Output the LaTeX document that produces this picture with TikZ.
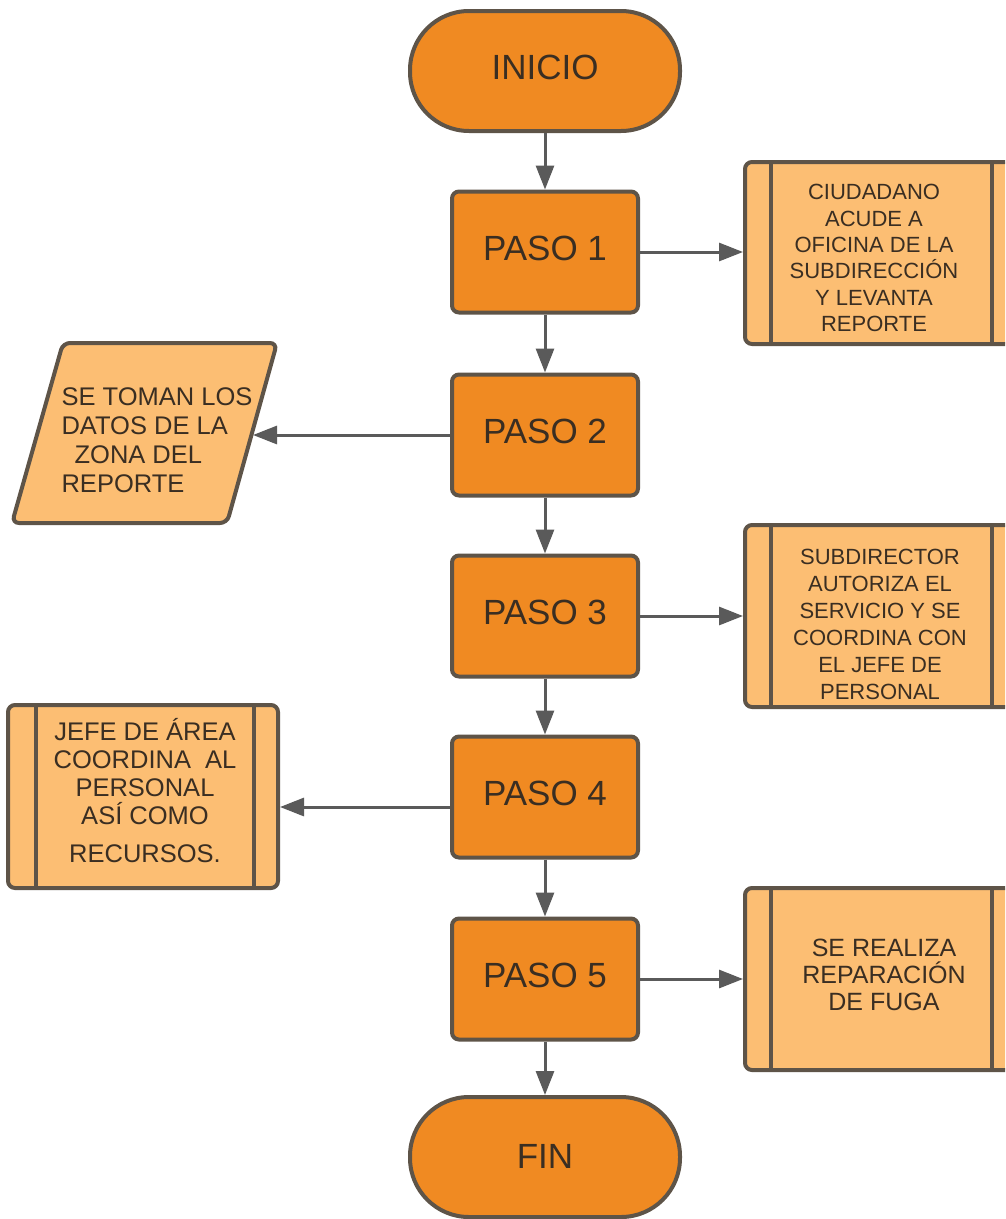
\documentclass[tikz,border=0pt]{standalone}
\usepackage{fontspec}
\setmainfont{Liberation Sans}
\usetikzlibrary{arrows.meta}
\definecolor{dorange}{HTML}{F08A22}
\definecolor{lorange}{HTML}{FCBE73}
\definecolor{bord}{HTML}{5E5448}
\definecolor{arrc}{HTML}{5A5A5A}
\definecolor{txt}{HTML}{3A2E22}
\begin{document}
\begin{tikzpicture}[x=1pt,y=-1pt,
  term/.style={rectangle, rounded corners=59pt, draw=bord, line width=4pt, fill=dorange,
    minimum width=270pt, minimum height=120pt},
  stepbox/.style={rectangle, rounded corners=7pt, draw=bord, line width=4pt, fill=dorange,
    minimum width=186pt, minimum height=121pt},
  bigtext/.style={text=txt, font=\fontsize{35}{40}\selectfont, inner sep=0pt},
  proc/.style={rectangle, rounded corners=7pt, draw=bord, line width=4pt, fill=lorange,
    minimum height=182pt},
  smalltext/.style={text=txt, align=center, inner sep=0pt},
  bar/.style={draw=bord, line width=4pt},
  arr/.style={draw=arrc, line width=3pt, -{Triangle[length=24pt,width=18pt]}}]
\useasboundingbox (0,0) rectangle (1005,1219);
\clip (0,0) rectangle (1005,1219);
\fill[white] (0,0) rectangle (1005,1219);

% main column
\node[term] (ini) at (545,71) {};
\node[bigtext] (init) at (545,67) {INICIO};
\node[stepbox] (p1) at (545,252) {};
\node[bigtext] (p1t) at (545,248) {PASO 1};
\node[stepbox] (p2) at (545,435) {};
\node[bigtext] (p2t) at (545,431) {PASO 2};
\node[stepbox] (p3) at (545,616) {};
\node[bigtext] (p3t) at (545,612) {PASO 3};
\node[stepbox] (p4) at (545,797) {};
\node[bigtext] (p4t) at (545,793) {PASO 4};
\node[stepbox] (p5) at (545,979) {};
\node[bigtext] (p5t) at (545,975) {PASO 5};
\node[term] (fin) at (545,1157) {};
\node[bigtext] (fint) at (545,1156) {FIN};

% right process boxes
\node[proc, minimum width=273pt] (b1) at (881.5,253) {};
\draw[bar] ([xshift=28pt]b1.north west) -- ([xshift=28pt]b1.south west);
\draw[bar] ([xshift=-28pt]b1.north east) -- ([xshift=-28pt]b1.south east);
\node[smalltext, font=\fontsize{22}{26.3}\selectfont] (b1t) at (874,258)
  {CIUDADANO\\ACUDE A\\OFICINA DE LA\\SUBDIRECCIÓN\\Y LEVANTA\\REPORTE};

\node[proc, minimum width=273pt] (b3) at (881.5,616) {};
\draw[bar] ([xshift=28pt]b3.north west) -- ([xshift=28pt]b3.south west);
\draw[bar] ([xshift=-28pt]b3.north east) -- ([xshift=-28pt]b3.south east);
\node[smalltext, font=\fontsize{22}{27}\selectfont] (b3t) at (880,624)
  {SUBDIRECTOR\\AUTORIZA EL\\SERVICIO Y SE\\COORDINA CON\\EL JEFE DE\\PERSONAL};

\node[proc, minimum width=273pt] (b5) at (881.5,979) {};
\draw[bar] ([xshift=28pt]b5.north west) -- ([xshift=28pt]b5.south west);
\draw[bar] ([xshift=-28pt]b5.north east) -- ([xshift=-28pt]b5.south east);
\node[smalltext, font=\fontsize{25}{27}\selectfont] (b5t) at (884,975)
  {SE REALIZA\\REPARACIÓN\\DE FUGA};

% left process box
\node[proc, minimum width=270pt, minimum height=183pt] (b4) at (143,796.5) {};
\draw[bar] ([xshift=30pt]b4.north west) -- ([xshift=30pt]b4.south west);
\draw[bar] ([xshift=-26pt]b4.north east) -- ([xshift=-26pt]b4.south east);
\node[smalltext, font=\fontsize{25.5}{28}\selectfont] (b4t) at (145,791)
  {JEFE DE ÁREA\\COORDINA\ \ AL\\PERSONAL\\ASÍ COMO\\[10pt]RECURSOS.};

% data parallelogram
\draw[draw=bord, line width=4pt, fill=lorange, rounded corners=7pt]
  (63,343) -- (277,343) -- (227,523) -- (12,523) -- cycle;
\node[align=left, text=txt, font=\fontsize{25.5}{29}\selectfont, inner sep=0pt] (dat) at (157,440)
  {SE TOMAN LOS\\DATOS DE LA\\\hspace*{13pt}ZONA DEL\\REPORTE};
\coordinate (datR) at (253,435);

% connectors
\draw[arr] (ini) -- (p1);
\draw[arr] (p1) -- (p2);
\draw[arr] (p2) -- (p3);
\draw[arr] (p3) -- (p4);
\draw[arr] (p4) -- (p5);
\draw[arr] (p5) -- (fin);
\draw[arr] (p1.east) -- (p1.east -| b1.west);
\draw[arr] (p2.west) -- (datR);
\draw[arr] (p3.east) -- (p3.east -| b3.west);
\draw[arr] ([yshift=-10pt]p4.west) -- ([yshift=-10pt]p4.west -| b4.east);
\draw[arr] (p5.east) -- (p5.east -| b5.west);
\end{tikzpicture}
\end{document}
